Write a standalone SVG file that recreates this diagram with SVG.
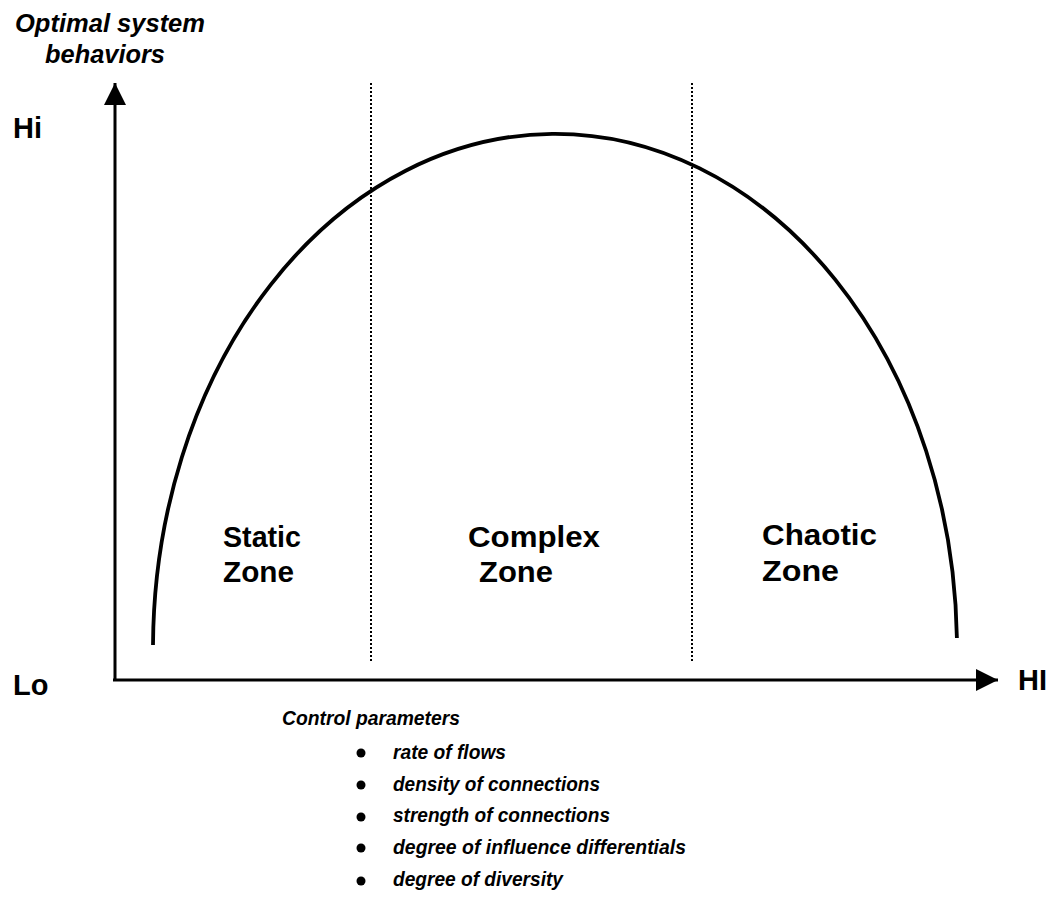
<svg xmlns="http://www.w3.org/2000/svg" width="1062" height="897" viewBox="0 0 1062 897">
  <style>
    .t { font-family: "Liberation Sans", Arial, sans-serif; fill: #000; }
    .lbl { font-size: 29px; font-weight: bold; }
    .ital { font-style: italic; font-weight: bold; }
    .axis { stroke: #000; stroke-width: 3; fill: none; }
    .div { stroke: #000; stroke-width: 2; stroke-dasharray: 2 2; fill: none; }
    .curve { stroke: #000; stroke-width: 3.8; fill: none; }
  </style>
  <defs>
    <marker id="arrow" markerUnits="userSpaceOnUse" viewBox="0 0 22 22" refX="22" refY="11" markerWidth="22" markerHeight="22" orient="auto">
      <path d="M0,0 L22,11 L0,22 Z" fill="#000"/>
    </marker>
  </defs>
  <rect width="1062" height="897" fill="#fff"/>

  <g id="connectors">
    <line id="y-axis" class="axis" x1="115" y1="681" x2="115" y2="83" marker-end="url(#arrow)"/>
    <line id="x-axis" class="axis" x1="113" y1="680" x2="998" y2="680" marker-end="url(#arrow)"/>
  </g>

  <g id="dividers">
    <line class="div" x1="371" y1="83" x2="371" y2="663"/>
    <line class="div" x1="692" y1="83" x2="692" y2="663"/>
  </g>

  <g id="curve">
    <path class="curve" d="M153,645 A402,515 0 0 1 956.9,638"/>
  </g>

  <g id="y-title">
    <text class="t ital" x="15" y="32" font-size="25" textLength="190" lengthAdjust="spacingAndGlyphs">Optimal system</text>
    <text class="t ital" x="45" y="63" font-size="25" textLength="120" lengthAdjust="spacingAndGlyphs">behaviors</text>
  </g>
  <g id="label-hi"><text class="t lbl" x="13" y="138">Hi</text></g>
  <g id="label-lo"><text class="t lbl" x="13" y="695">Lo</text></g>
  <g id="label-HI"><text class="t lbl" x="1018" y="690">HI</text></g>

  <g id="static-zone">
    <text class="t lbl" x="223" y="547" textLength="78" lengthAdjust="spacingAndGlyphs">Static</text>
    <text class="t lbl" x="223" y="582" textLength="71" lengthAdjust="spacingAndGlyphs">Zone</text>
  </g>
  <g id="complex-zone">
    <text class="t lbl" x="468" y="547" textLength="132" lengthAdjust="spacingAndGlyphs">Complex</text>
    <text class="t lbl" x="479" y="582" textLength="74" lengthAdjust="spacingAndGlyphs">Zone</text>
  </g>
  <g id="chaotic-zone">
    <text class="t lbl" x="762" y="545" textLength="115" lengthAdjust="spacingAndGlyphs">Chaotic</text>
    <text class="t lbl" x="762" y="581" textLength="77" lengthAdjust="spacingAndGlyphs">Zone</text>
  </g>

  <g id="control-parameters">
    <text class="t ital" x="282" y="725" font-size="21" textLength="178" lengthAdjust="spacingAndGlyphs">Control parameters</text>
    <g font-size="21">
      <circle cx="361" cy="753" r="4.5"/>
      <text class="t ital" x="393" y="759" textLength="113" lengthAdjust="spacingAndGlyphs">rate of flows</text>
      <circle cx="361" cy="785" r="4.5"/>
      <text class="t ital" x="393" y="791" textLength="207" lengthAdjust="spacingAndGlyphs">density of connections</text>
      <circle cx="361" cy="817" r="4.5"/>
      <text class="t ital" x="393" y="822" textLength="217" lengthAdjust="spacingAndGlyphs">strength of connections</text>
      <circle cx="361" cy="848" r="4.5"/>
      <text class="t ital" x="393" y="854" textLength="293" lengthAdjust="spacingAndGlyphs">degree of influence differentials</text>
      <circle cx="361" cy="881" r="4.5"/>
      <text class="t ital" x="393" y="886" textLength="170" lengthAdjust="spacingAndGlyphs">degree of diversity</text>
    </g>
  </g>
</svg>
